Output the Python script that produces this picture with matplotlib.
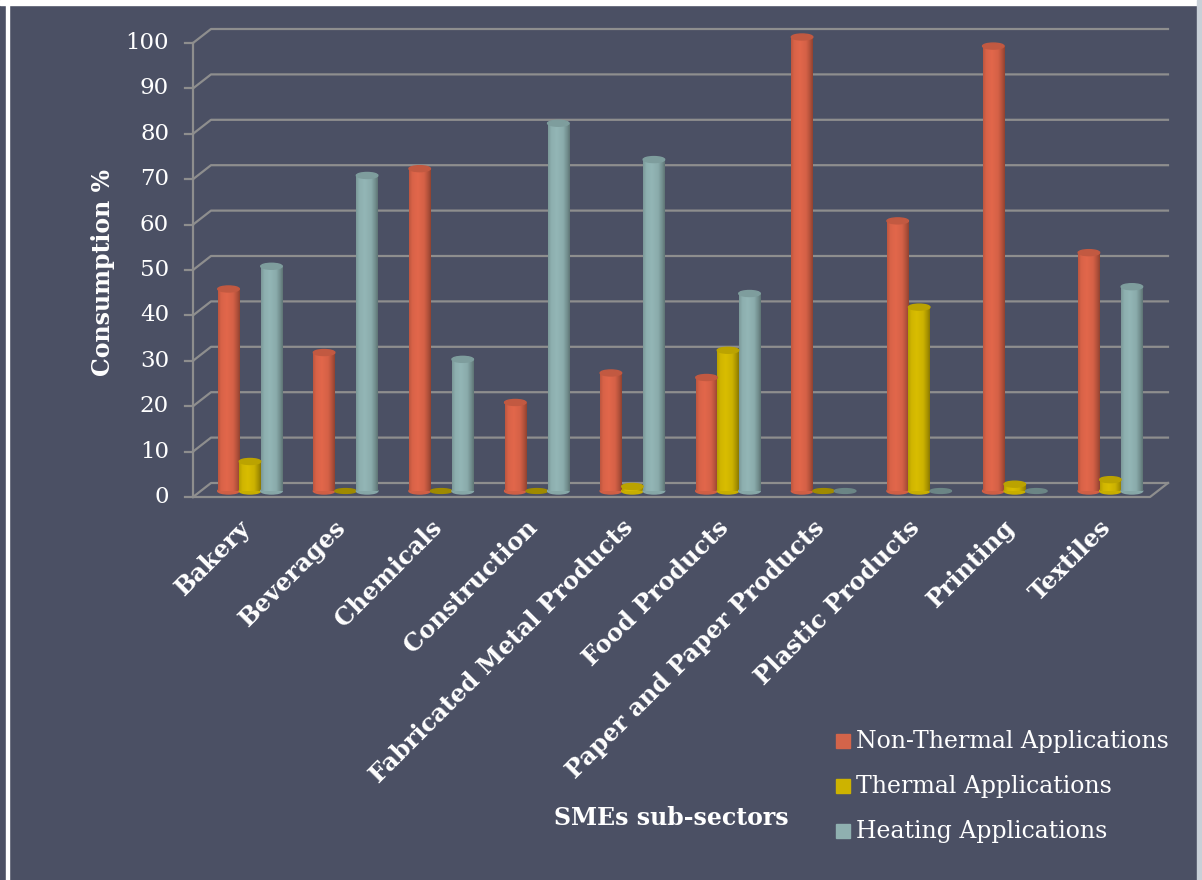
import numpy as np
import matplotlib.pyplot as plt
from matplotlib.patches import Ellipse, Rectangle
from matplotlib.colors import to_rgb

categories = ["Bakery", "Beverages", "Chemicals", "Construction",
              "Fabricated Metal Products", "Food Products",
              "Paper and Paper Products", "Plastic Products", "Printing",
              "Textiles"]
non_thermal = [44.5, 30.5, 71, 19.5, 26, 25, 100, 59.5, 98, 52.5]
thermal = [6.5, 0, 0, 0, 1, 31, 0, 40.5, 1.5, 2.5]
heating = [49.5, 69.5, 29, 81, 73, 43.5, 0, 0, 0, 45]
series_names = ["Non-Thermal Applications", "Thermal Applications",
                "Heating Applications"]
y_ticks = list(range(0, 101, 10))

BG = "#4b5064"
GRID = "#8e8e8e"
bar_colors = ["#e2674b", "#d9bd00", "#93b6b6"]
key_colors = ["#d3644a", "#cdb300", "#8fb0b0"]

W, H = 1202, 880
fig = plt.figure(figsize=(W / 100, H / 100), dpi=100, facecolor=BG)
plt.rcParams["font.family"] = ["DejaVu Serif"]

# pixel layout of the plot box
px_left, px_right = 193, 1168
px_zero, px_top = 497, 29
px_per_unit = 4.54
group_px0, group_step = 250, 95.6
depth_dx, depth_dy = 18 / group_step, 14 / px_per_unit
base = 6 / px_per_unit

ax = fig.add_axes([px_left / W, (H - px_zero) / H,
                   (px_right - px_left) / W, (px_zero - px_top) / H])
ax.set_facecolor("none")
x_lo = (px_left - group_px0) / group_step
x_hi = (px_right - group_px0) / group_step
y_hi = (px_zero - px_top) / px_per_unit
for s in ax.spines.values():
    s.set_visible(False)
ax.set_xticks([])
ax.set_yticks([])

# walls: back gridlines with slanted joins to the front axis
front_right = x_hi - depth_dx
for v in y_ticks:
    ax.plot([x_lo, x_lo + depth_dx, x_hi], [v, v + depth_dy, v + depth_dy],
            color=GRID, lw=1.6, clip_on=False, zorder=1)
    ax.plot([x_lo - 8 / group_step, x_lo], [v, v], color=GRID, lw=1.6,
            clip_on=False, zorder=1)
    ax.text(x_lo - 24 / group_step, v, str(v), color="white", fontsize=16.5,
            ha="right", va="center")
ax.plot([x_lo, x_lo], [0, 100], color=GRID, lw=1.6, clip_on=False)
ax.plot([x_lo, front_right, x_hi], [0, 0, depth_dy], color=GRID, lw=1.6,
        clip_on=False, zorder=1)


def shade(color):
    # horizontal cylinder shading: soft left edge, highlight, dark right edge
    c = np.array(to_rgb(color))
    t = np.linspace(0, 1, 60)
    k = np.interp(t, [0, 0.15, 0.4, 0.7, 0.9, 1.0],
                  [0.84, 0.96, 1.0, 0.94, 0.76, 0.64])
    return np.clip(c[None, :] * k[:, None], 0, 1)[None, :, :]


bar_w = 21.5 / group_step
offset = 21.5 / group_step
ell_h = 6 / px_per_unit
for j, vals in enumerate([non_thermal, thermal, heating]):
    col = bar_colors[j]
    grad = shade(col)
    body = np.array(to_rgb(col)) * 0.92
    dark = np.array(to_rgb(col)) * 0.86
    for i, v in enumerate(vals):
        xc = i + (j - 1) * offset
        if v <= 0.5:
            ax.add_patch(Ellipse((xc, base), bar_w, ell_h * 0.8,
                                 color=dark * 0.85, zorder=3))
            continue
        ax.add_patch(Ellipse((xc, base), bar_w, ell_h,
                             color=body, zorder=3))
        ax.imshow(grad, extent=(xc - bar_w / 2, xc + bar_w / 2,
                                base, base + v),
                  aspect="auto", interpolation="bilinear", zorder=3)
        ax.add_patch(Ellipse((xc, base + v), bar_w, ell_h,
                             color=dark, zorder=4))
ax.set_xlim(x_lo, x_hi)
ax.set_ylim(0, y_hi)

for i, name in enumerate(categories):
    ax.text(i - 3 / group_step, -27 / px_per_unit, name, color="white",
            fontsize=17.5, fontweight="bold", rotation=45,
            rotation_mode="anchor", ha="right", va="center", clip_on=False)

fig.text(103 / W, 1 - 272 / H, "Consumption %", color="white", fontsize=17,
         fontweight="bold", rotation=90, ha="center", va="center")
fig.text(671 / W, 1 - 818 / H, "SMEs sub-sectors", color="white",
         fontsize=17, fontweight="bold", ha="center", va="center")

# legend keys
for j, name in enumerate(series_names):
    yc = 741 + 45 * j
    fig.patches.append(Rectangle((836 / W, 1 - (yc + 7) / H), 14 / W, 14 / H,
                                 transform=fig.transFigure,
                                 color=key_colors[j]))
    fig.text(856 / W, 1 - yc / H, name, color="white", fontsize=17,
             ha="left", va="center")

# slide frame
fig.patches.append(Rectangle((0, 1 - 5 / H), 1, 5 / H,
                             transform=fig.transFigure, color="white"))
fig.patches.append(Rectangle((6 / W, 0), 2.5 / W, 1 - 5 / H,
                             transform=fig.transFigure, color="white"))
fig.patches.append(Rectangle((1197 / W, 0), 5 / W, 1,
                             transform=fig.transFigure, color="#c8d0d8"))

fig.savefig("out.png", dpi=100, facecolor=BG)
